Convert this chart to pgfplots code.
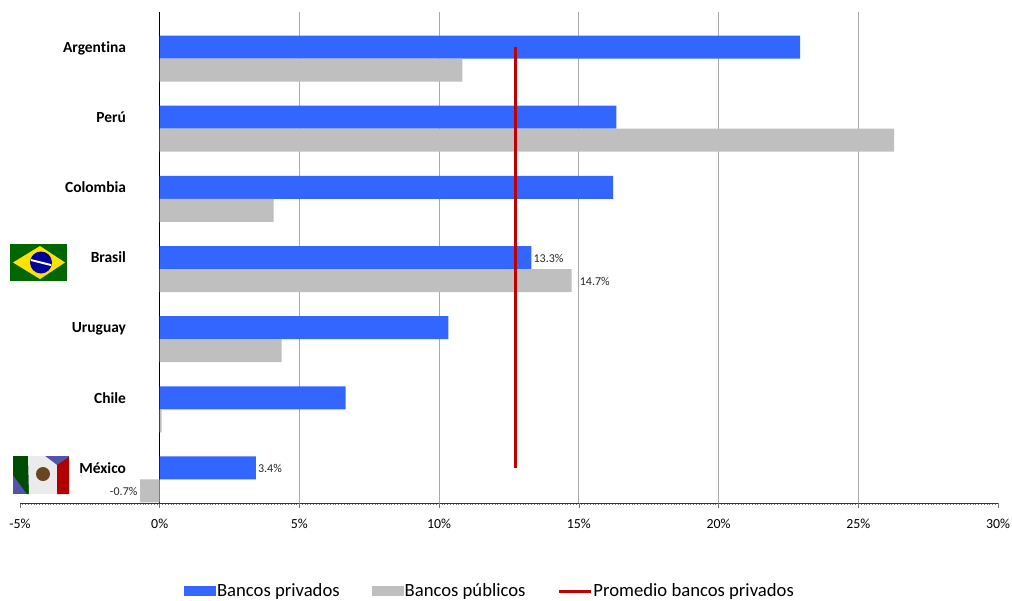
\documentclass[border=0pt]{standalone}
\usepackage{pgfplots}
\pgfplotsset{compat=1.18}
\usepackage{fontspec}
\setmainfont[Ligatures=NoCommon]{Carlito}
\definecolor{privados}{RGB}{51,102,255}
\definecolor{publicos}{RGB}{191,191,191}
\definecolor{promedio}{RGB}{192,0,0}
\definecolor{rejilla}{RGB}{170,170,170}
\newlength{\pxu}
\setlength{\pxu}{0.75pt}
\pgfplotsset{
    swatch/.style={legend image code/.code={
        \fill[##1] (0pt,-5\pxu) rectangle (32\pxu,5\pxu);}},
    linekey/.style={legend image code/.code={
        \draw[##1] (0pt,0pt) -- (32\pxu,0pt);}},
    barlabels/.style={nodes near coords,
        point meta=explicit symbolic,
        every node near coord/.append style={anchor=west, yshift=-1\pxu, font=\fontsize{9}{10}\selectfont, inner sep=2\pxu, black!85}},
}
\begin{document}
\begin{tikzpicture}[x=\pxu,y=\pxu]
\useasboundingbox (0,0) rectangle (1012,-600);
\begin{axis}[
    at={(20\pxu,-12\pxu)}, anchor=north west,
    scale only axis,
    width=978\pxu, height=491\pxu,
    xmin=-5, xmax=30,
    ymin=-0.5, ymax=6.5,
    y dir=reverse,
    axis y line=center,
    axis x line=bottom,
    x axis line style={-, black!80, line width=0.6pt},
    y axis line style={-, black, line width=0.9pt},
    hide obscured x ticks=false,
    hide obscured y ticks=false,
    xtick={-5,0,5,10,15,20,25,30},
    xticklabels={-5\%,0\%,5\%,10\%,15\%,20\%,25\%,30\%},
    minor x tick num=49,
    extra x ticks={5,10,15,20,25},
    extra x tick labels={},
    extra x tick style={grid=major},
    major x grid style={rejilla, line width=0.7pt},
    tick align=outside,
    x tick style={black!55, line width=0.5pt},
    major tick length=5\pxu,
    minor tick length=1.5\pxu,
    ytick={0,...,6},
    yticklabels={Argentina,Perú,Colombia,Brasil,Uruguay,Chile,México},
    y tick label style={font=\fontsize{11.6}{13}\selectfont\bfseries, anchor=east,
        text height=1.5ex, text depth=0.3ex, xshift=-24\pxu, yshift=-1.5\pxu},
    x tick label style={font=\fontsize{10.4}{12}\selectfont, yshift=-6\pxu},
    /pgf/number format/assume math mode=true,
    y tick style={draw=none},
    extra y ticks={-0.5,0.5,1.5,2.5,3.5,4.5,5.5},
    extra y tick labels={},
    extra y tick style={tick style={draw=black!40, line width=0.6pt}, major tick length=4\pxu},
    xbar,
    bar width=23\pxu,
    legend style={at={(0.480,-0.1796)}, anchor=center, draw=none, fill=none,
        font=\fontsize{14}{16}\selectfont, legend columns=3,
        /tikz/every even column/.style={column sep=31\pxu},
        nodes={inner sep=1\pxu}},
    legend cell align=left,
    clip=false,
]
\addplot[bar shift=0pt, fill=privados, draw=none, swatch, barlabels] coordinates {
    (22.92,0) [] (16.34,1) [] (16.23,2) [] (13.3,3) [13.3\%] (10.33,4) [] (6.65,5) [] (3.44,6) [3.4\%]
};
\addplot[bar shift=-23\pxu, fill=publicos, draw=none, swatch, barlabels] coordinates {
    (10.83,0) [] (26.28,1) [] (4.08,2) [] (14.74,3) [\hspace*{6\pxu}14.7\%] (4.36,4) [] (0.07,5) [] (-0.7,6) [\llap{-0.7\%\hspace*{5\pxu}}]
};
\addplot[xbar=false, sharp plot, promedio, line width=2.2pt, no marks, linekey] coordinates {
    (12.74,0) (12.74,1) (12.74,2) (12.74,3) (12.74,4) (12.74,5) (12.74,6)
};
\legend{Bancos privados, Bancos públicos, Promedio bancos privados}
\end{axis}
% flags (approximate)
\begin{scope}
\fill[green!40!black] (10,-244) rectangle (67,-281);
\fill[yellow!85!orange] (13,-262.5) -- (40,-246) -- (65,-262.5) -- (40,-279) -- cycle;
\fill[blue!60!black] (41,-262.5) circle (11);
\fill[white] (31,-259) -- (51,-264) -- (51,-266) -- (31,-261) -- cycle;
\fill[blue!35!gray] (13,-456) rectangle (69,-494);
\fill[green!30!black] (13,-456) -- (28,-456) -- (29,-494) -- (27,-494) -- (13,-475) -- cycle;
\fill[black!8] (28,-456) -- (45,-456) -- (57,-465) -- (57,-494) -- (29,-494) -- cycle;
\fill[red!70!black] (57,-465) -- (69,-457) -- (69,-494) -- (57,-494) -- cycle;
\fill[black!45!brown] (43,-474) circle (7);
\end{scope}
\end{tikzpicture}
\end{document}
